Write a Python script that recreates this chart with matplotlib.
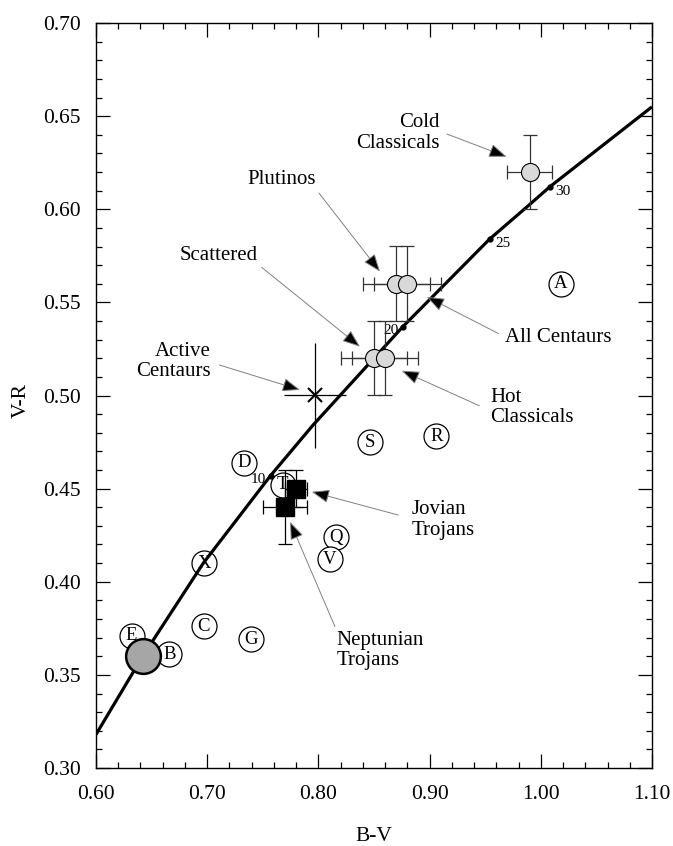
import matplotlib
matplotlib.use("Agg")
import matplotlib.pyplot as plt
from matplotlib.ticker import MultipleLocator
import numpy as np

plt.rcParams['font.family'] = ['Liberation Serif', 'DejaVu Serif']

# reddening curve (B-V, V-R)
curve_bv = [0.60, 0.642, 0.6965, 0.757, 0.795, 0.85, 0.876, 0.954, 0.987, 1.008, 1.10]
curve_vr = [0.318, 0.360, 0.410, 0.457, 0.484, 0.520, 0.537, 0.584, 0.601, 0.612, 0.655]

# labelled dots on the curve
age_labels = ['10', '20', '25', '30']
age_bv = [0.757, 0.876, 0.954, 1.008]
age_vr = [0.457, 0.537, 0.584, 0.612]

# asteroid taxonomic classes
taxa = ['A', 'B', 'C', 'D', 'E', 'G', 'Q', 'R', 'S', 'T', 'V', 'X']
taxa_bv = [1.018, 0.666, 0.697, 0.733, 0.632, 0.739, 0.816, 0.906, 0.846, 0.768, 0.810, 0.697]
taxa_vr = [0.560, 0.361, 0.376, 0.464, 0.371, 0.369, 0.424, 0.478, 0.475, 0.452, 0.412, 0.410]

# outer solar system populations (gray circles)
groups = ['Cold Classicals', 'Plutinos', 'All Centaurs', 'Scattered', 'Hot Classicals']
groups_bv = [0.99, 0.87, 0.88, 0.85, 0.86]
groups_vr = [0.62, 0.56, 0.56, 0.52, 0.52]
groups_bv_err = [0.02, 0.03, 0.03, 0.03, 0.03]
groups_vr_err = [0.02, 0.02, 0.02, 0.02, 0.02]

# trojans (black squares)
trojans = ['Jovian Trojans', 'Neptunian Trojans']
trojans_bv = [0.78, 0.77]
trojans_vr = [0.45, 0.44]
trojans_bv_err = [0.01, 0.02]
trojans_vr_err = [0.01, 0.02]

# active centaurs
active_bv, active_vr = 0.797, 0.50
active_bv_err, active_vr_err = 0.028, 0.028

# sun
sun_bv, sun_vr = 0.642, 0.36

fig = plt.figure(figsize=(6.73, 8.46), dpi=100)
ax = fig.add_axes([96 / 673, 78 / 846, 556 / 673, 745 / 846])

ax.plot(curve_bv, curve_vr, color='black', lw=2.3, zorder=3, solid_capstyle='butt')
ax.plot(age_bv, age_vr, 'o', color='black', ms=3.5, zorder=4)
for lab, bx, vy in zip(age_labels, age_bv, age_vr):
    if lab in ('10', '20'):
        ax.annotate(lab, (bx, vy), xytext=(-3, -3), textcoords='offset points',
                    ha='right', va='center', fontsize=11, zorder=4)
    else:
        ax.annotate(lab, (bx, vy), xytext=(4, -3), textcoords='offset points',
                    ha='left', va='center', fontsize=11, zorder=4)

# taxonomic classes: letters in open circles
ax.plot(taxa_bv, taxa_vr, 'o', ms=18, mfc='white', mec='black', mew=0.9, zorder=2)
for t, bx, vy in zip(taxa, taxa_bv, taxa_vr):
    ax.text(bx, vy, t, ha='center', va='center', fontsize=13.5, zorder=2)

# populations with error bars
ax.errorbar(groups_bv, groups_vr, xerr=groups_bv_err, yerr=groups_vr_err, fmt='none',
            ecolor='#333333', elinewidth=0.9, capsize=5, capthick=0.9, zorder=5)
ax.plot(groups_bv, groups_vr, 'o', ms=13, mfc='#d9d9d9', mec='black', mew=0.8, zorder=6)

# trojans
ax.errorbar(trojans_bv, trojans_vr, xerr=trojans_bv_err, yerr=trojans_vr_err, fmt='none',
            ecolor='black', elinewidth=0.9, capsize=5, capthick=0.9, zorder=5)
ax.plot(trojans_bv, trojans_vr, 's', ms=12.5, color='black', zorder=6)

# active centaurs
ax.errorbar([active_bv], [active_vr], xerr=active_bv_err, yerr=active_vr_err, fmt='none',
            ecolor='black', elinewidth=0.9, capsize=0, zorder=5)
ax.plot([active_bv], [active_vr], 'x', ms=10, mew=1.5, color='black', zorder=6)

# sun
ax.plot([sun_bv], [sun_vr], 'o', ms=25, mfc='#a6a6a6', mec='black', mew=1.8, zorder=7)

# labels with arrows: text, text position, alignment, arrow start, arrow tip
notes = [
    ('Cold\nClassicals', (0.9094, 0.6409), 'right', (0.9155, 0.6404), (0.9693, 0.6282)),
    ('Plutinos', (0.7668, 0.6162), 'center', (0.8005, 0.6087), (0.8554, 0.5665)),
    ('Scattered', (0.7100, 0.5754), 'center', (0.7490, 0.5688), (0.8374, 0.5262)),
    ('Active\nCentaurs', (0.7031, 0.5184), 'right', (0.7109, 0.5164), (0.7835, 0.5030)),
    ('All Centaurs', (0.9678, 0.5312), 'left', (0.9618, 0.5333), (0.8974, 0.5530)),
    ('Hot\nClassicals', (0.9543, 0.4937), 'left', (0.9447, 0.4945), (0.8749, 0.5133)),
    ('Jovian\nTrojans', (0.8839, 0.4332), 'left', (0.8719, 0.4358), (0.7940, 0.4483)),
    ('Neptunian\nTrojans', (0.8165, 0.3631), 'left', (0.8149, 0.3759), (0.7745, 0.4322)),
]
for txt, pos, ha, start, tip in notes:
    ax.text(pos[0], pos[1], txt, ha=ha, va='center', multialignment=ha,
            fontsize=15, linespacing=1.1, zorder=8)
    ax.annotate('', xy=tip, xytext=start,
                arrowprops=dict(arrowstyle='-|>,head_length=1.1,head_width=0.42',
                                fc='black', ec='#808080', lw=0.7,
                                shrinkA=0, shrinkB=0), zorder=8)

ax.set_xlim(0.60, 1.10)
ax.set_ylim(0.30, 0.70)
ax.set_xticks(np.arange(0.60, 1.101, 0.10))
ax.set_yticks(np.arange(0.30, 0.701, 0.05))
ax.set_xticklabels(['%.2f' % v for v in np.arange(0.60, 1.101, 0.10)])
ax.set_yticklabels(['%.2f' % v for v in np.arange(0.30, 0.701, 0.05)])
ax.xaxis.set_minor_locator(MultipleLocator(0.02))
ax.yaxis.set_minor_locator(MultipleLocator(0.01))
ax.tick_params(which='both', direction='in', top=True, right=True, width=0.9, labelsize=15.5)
ax.tick_params(which='major', length=10)
ax.tick_params(which='minor', length=4.5)
ax.tick_params(axis='x', pad=12)
ax.tick_params(axis='y', pad=11)
for s in ax.spines.values():
    s.set_linewidth(1.0)

fig.text(374 / 673, 1 - 836 / 846, 'B-V', ha='center', va='center', fontsize=15.5)
fig.text(21.7 / 673, 1 - 400 / 846, 'V-R', ha='center', va='center', rotation=90, fontsize=15.5)

fig.savefig('out.png', dpi=100)
